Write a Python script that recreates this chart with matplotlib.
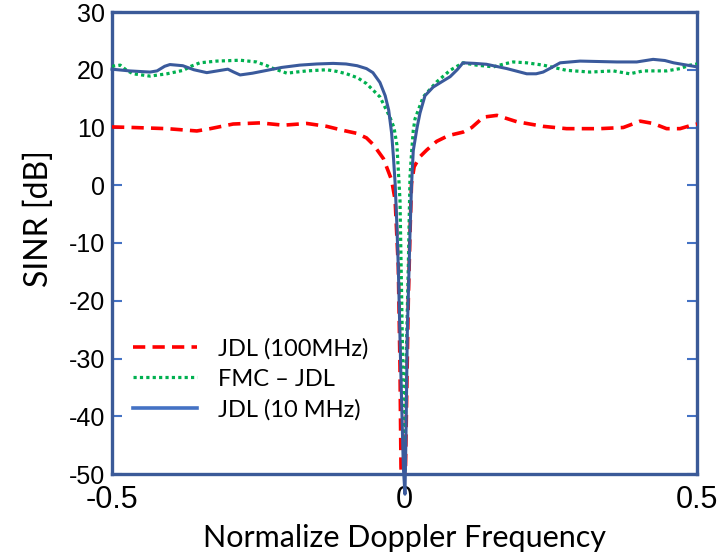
import matplotlib
matplotlib.use("Agg")
import matplotlib.pyplot as plt
from matplotlib.lines import Line2D

# ---- data ----
blue_f = [-0.5, -0.47, -0.435, -0.423, -0.41, -0.401, -0.379, -0.36, -0.338, -0.32,
          -0.302, -0.292, -0.281, -0.26, -0.235, -0.21, -0.179, -0.15, -0.122, -0.10,
          -0.081, -0.065, -0.054, -0.042, -0.033, -0.027, -0.022, -0.019, -0.016, -0.013,
          -0.0106, -0.0085, -0.0065, -0.004, -0.002, 0.0008, 0.0026, 0.0048, 0.0094, 0.012,
          0.015, 0.0215, 0.0265, 0.035, 0.049, 0.065, 0.078, 0.09, 0.10, 0.12,
          0.14, 0.175, 0.209, 0.225, 0.237, 0.25, 0.266, 0.30, 0.363, 0.397,
          0.425, 0.445, 0.46, 0.5]
blue_db = [20.1, 19.8, 19.6, 19.8, 20.6, 20.9, 20.7, 20.0, 19.5, 19.8,
           20.1, 19.6, 19.1, 19.4, 19.9, 20.4, 20.8, 21.0, 21.1, 21.0,
           20.7, 20.2, 19.5, 17.8, 15.5, 13.0, 9.0, 5.0, 0.3, -7.0,
           -14.2, -23.0, -31.5, -41.0, -48.8, -53.5, -43.0, -25.6, -8.3, 0.0,
           6.0, 10.0, 12.5, 15.5, 17.0, 18.0, 18.8, 20.0, 21.2, 21.1,
           20.95, 20.2, 19.3, 19.3, 19.6, 20.3, 21.2, 21.5, 21.35, 21.35,
           21.8, 21.6, 21.2, 20.5]

green_f = [-0.5, -0.486, -0.475, -0.464, -0.435, -0.406, -0.378, -0.365, -0.35, -0.321,
           -0.281, -0.253, -0.235, -0.224, -0.201, -0.185, -0.167, -0.133, -0.115, -0.099,
           -0.08, -0.065, -0.042, -0.025, -0.018, -0.013, -0.0077, -0.0048, -0.002, 0.0005,
           0.0026, 0.0065, 0.0094, 0.012, 0.015, 0.018, 0.032, 0.055, 0.078, 0.10,
           0.123, 0.152, 0.17, 0.186, 0.209, 0.237, 0.277, 0.317, 0.357, 0.385,
           0.408, 0.448, 0.471, 0.488, 0.5]
green_db = [20.6, 20.8, 19.9, 19.3, 18.9, 19.3, 19.9, 20.6, 21.2, 21.5,
            21.65, 21.35, 20.7, 20.2, 19.4, 19.6, 19.8, 20.0, 19.7, 19.3,
            18.6, 17.6, 15.3, 11.8, 10.0, 7.0, -2.6, -19.9, -37.2, -52.0,
            -31.5, -14.1, 1.5, 5.5, 9.5, 11.5, 15.3, 17.9, 19.9, 21.2,
            20.8, 20.5, 21.0, 21.35, 21.2, 20.8, 19.9, 19.6, 19.8, 19.3,
            19.8, 19.8, 20.2, 20.8, 21.0]

red_f = [-0.5, -0.464, -0.406, -0.355, -0.332, -0.293, -0.247, -0.207, -0.167, -0.133,
         -0.105, -0.082, -0.065, -0.053, -0.036, -0.022, -0.016, -0.0106, -0.0077, -0.006,
         -0.002, 0.0015, 0.004, 0.0065, 0.0094, 0.012, 0.0165, 0.026, 0.038, 0.055,
         0.075, 0.10, 0.115, 0.135, 0.158, 0.192, 0.237, 0.277, 0.334, 0.374,
         0.403, 0.425, 0.448, 0.471, 0.491, 0.5]
red_db = [10.1, 10.0, 9.8, 9.4, 9.8, 10.6, 10.8, 10.4, 10.7, 10.2,
          9.5, 9.0, 8.2, 7.0, 4.6, 0.9, -2.6, -14.1, -31.5, -48.8,
          -58.0, -50.0, -35.0, -20.0, -8.4, 0.3, 3.2, 4.9, 6.1, 7.6,
          8.6, 9.2, 10.0, 11.8, 12.1, 11.0, 10.2, 9.8, 9.8, 10.0,
          11.1, 10.7, 9.8, 9.8, 10.4, 10.6]

series_labels = ["JDL (100MHz)", "FMC \u2013 JDL", "JDL (10 MHz)"]
x_ticks = [-0.5, 0, 0.5]
x_ticklabels = ["-0.5", "0", "0.5"]
y_ticks = [-50, -40, -30, -20, -10, 0, 10, 20, 30]

# ---- style ----
RED = "#FF0000"
GREEN = "#00B050"
BLUE = "#3A5A9C"
BLUE_LEG = "#4472C4"
SPINE = "#3B5A98"

fig = plt.figure(figsize=(7.27, 5.52), dpi=100)
ax = fig.add_axes([112 / 727, 1 - 474 / 552, 585 / 727, 462 / 552])

ax.plot(red_f, red_db, color=RED, lw=2.6, linestyle=(0, (3.4, 2.0)), dash_capstyle="butt", zorder=3)
ax.plot(green_f, green_db, color=GREEN, lw=2.3, linestyle=(0, (1.0, 1.0)), dash_capstyle="butt", zorder=4)
ax.plot(blue_f, blue_db, color=BLUE, lw=2.2, zorder=5, clip_on=False)

ax.set_xlim(-0.5, 0.5)
ax.set_ylim(-50, 30)
ax.set_xticks(x_ticks)
ax.set_xticklabels(x_ticklabels, fontfamily="Liberation Sans", fontsize=22)
ax.set_yticks(y_ticks)
ax.set_yticklabels([str(v) for v in y_ticks], fontfamily="Liberation Sans", fontsize=18)
ax.tick_params(axis="x", length=0, pad=8)
ax.tick_params(axis="y", direction="in", length=7, width=1.5, color=BLUE_LEG,
               left=True, right=True, pad=5)
for s in ax.spines.values():
    s.set_color(SPINE)
    s.set_linewidth(2.4)

ax.set_xlabel("Normalize Doppler Frequency", fontfamily="Lato", fontsize=22)
ax.xaxis.set_label_coords(0.5, -0.108)
ax.set_ylabel("SINR [dB]", fontfamily="Lato", fontsize=23)
ax.yaxis.set_label_coords(-0.099, 0.552)

handles = [
    Line2D([], [], color=RED, lw=2.6, linestyle=(0, (3.4, 2.0))),
    Line2D([], [], color=GREEN, lw=2.3, linestyle=(0, (1.0, 1.0))),
    Line2D([], [], color=BLUE_LEG, lw=2.6),
]
leg = ax.legend(handles, series_labels, loc="upper left", bbox_to_anchor=(0.0, 0.34),
                frameon=False, handlelength=2.7, handletextpad=0.9, labelspacing=0.38,
                prop={"family": "Lato", "size": 17})

fig.savefig("out.png", dpi=100)
